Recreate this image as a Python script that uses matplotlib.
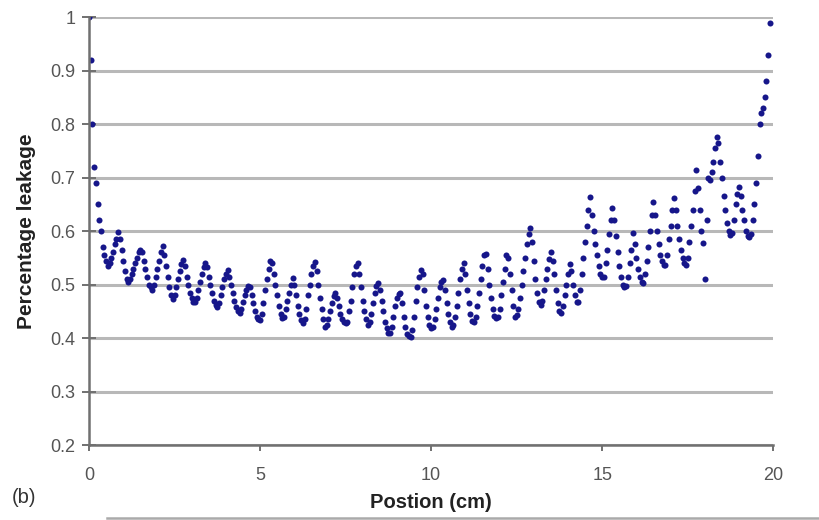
import numpy as np
from matplotlib import pyplot as plt
from matplotlib.lines import Line2D

plt.rcParams['font.family'] = ['Liberation Sans', 'DejaVu Sans']

step = 0.05  # cm between samples

# leakage, one value every 0.05 cm, split in chunks
leak_0_5 = [
    1.00, 0.92, 0.80, 0.72, 0.69, 0.65, 0.62, 0.60, 0.57, 0.555,
    0.545, 0.535, 0.54, 0.55, 0.56, 0.575, 0.585, 0.598, 0.585, 0.565,
    0.545, 0.525, 0.51, 0.505, 0.51, 0.52, 0.53, 0.54, 0.55, 0.56,
    0.565, 0.56, 0.545, 0.53, 0.515, 0.50, 0.495, 0.49, 0.50, 0.515,
    0.53, 0.545, 0.56, 0.572, 0.555, 0.535, 0.515, 0.495, 0.48, 0.473,
    0.48, 0.495, 0.51, 0.525, 0.538, 0.546, 0.535, 0.515, 0.50, 0.485,
    0.475, 0.468, 0.467, 0.475, 0.49, 0.505, 0.52, 0.532, 0.54, 0.533,
    0.515, 0.50, 0.485, 0.47, 0.462, 0.458, 0.465, 0.48, 0.495, 0.51,
    0.52, 0.527, 0.515, 0.50, 0.485, 0.47, 0.458, 0.45, 0.446, 0.455,
    0.468, 0.48, 0.49, 0.497, 0.495, 0.48, 0.465, 0.45, 0.44, 0.435,
]
leak_5_10 = [
    0.434, 0.445, 0.465, 0.49, 0.51, 0.53, 0.545, 0.54, 0.52, 0.50,
    0.48, 0.46, 0.445, 0.437, 0.44, 0.455, 0.47, 0.485, 0.50, 0.512,
    0.50, 0.48, 0.46, 0.445, 0.433, 0.428, 0.435, 0.455, 0.48, 0.50,
    0.52, 0.535, 0.542, 0.525, 0.50, 0.475, 0.455, 0.435, 0.42, 0.425,
    0.435, 0.45, 0.465, 0.478, 0.484, 0.475, 0.46, 0.445, 0.435, 0.43,
    0.428, 0.43, 0.45, 0.47, 0.495, 0.52, 0.535, 0.54, 0.52, 0.495,
    0.47, 0.45, 0.435, 0.424, 0.43, 0.445, 0.465, 0.485, 0.498, 0.503,
    0.49, 0.47, 0.45, 0.43, 0.418, 0.41, 0.409, 0.42, 0.44, 0.46,
    0.475, 0.482, 0.484, 0.465, 0.44, 0.42, 0.408, 0.403, 0.402, 0.415,
    0.44, 0.47, 0.495, 0.515, 0.527, 0.52, 0.49, 0.46, 0.44, 0.425,
]
leak_10_15 = [
    0.418, 0.42, 0.435, 0.455, 0.475, 0.495, 0.505, 0.508, 0.49, 0.465,
    0.445, 0.43, 0.42, 0.425, 0.44, 0.46, 0.485, 0.51, 0.53, 0.54,
    0.52, 0.49, 0.465, 0.445, 0.432, 0.43, 0.44, 0.46, 0.485, 0.51,
    0.535, 0.555, 0.558, 0.53, 0.50, 0.475, 0.455, 0.442, 0.437, 0.44,
    0.455, 0.48, 0.505, 0.53, 0.555, 0.55, 0.52, 0.49, 0.46, 0.44,
    0.443, 0.455, 0.475, 0.50, 0.525, 0.55, 0.575, 0.595, 0.605, 0.58,
    0.545, 0.51, 0.485, 0.468, 0.461, 0.47, 0.49, 0.51, 0.53, 0.548,
    0.56, 0.545, 0.52, 0.49, 0.465, 0.45, 0.447, 0.46, 0.48, 0.50,
    0.52, 0.538, 0.525, 0.50, 0.48, 0.468, 0.467, 0.49, 0.52, 0.55,
    0.58, 0.61, 0.64, 0.664, 0.63, 0.60, 0.575, 0.555, 0.535, 0.52,
]
leak_15_20 = [
    0.514, 0.515, 0.54, 0.565, 0.595, 0.62, 0.643, 0.62, 0.59, 0.56,
    0.535, 0.515, 0.50, 0.495, 0.497, 0.515, 0.54, 0.565, 0.596, 0.575,
    0.55, 0.53, 0.515, 0.505, 0.503, 0.52, 0.545, 0.57, 0.60, 0.63,
    0.654, 0.63, 0.60, 0.575, 0.555, 0.545, 0.537, 0.536, 0.555, 0.585,
    0.61, 0.64, 0.662, 0.64, 0.61, 0.585, 0.565, 0.55, 0.54, 0.536,
    0.55, 0.58, 0.61, 0.64, 0.675, 0.714, 0.68, 0.64, 0.60, 0.578,
    0.51, 0.62, 0.70, 0.695, 0.71, 0.73, 0.755, 0.776, 0.765, 0.73,
    0.70, 0.665, 0.64, 0.615, 0.60, 0.593, 0.596, 0.62, 0.65, 0.67,
    0.682, 0.665, 0.64, 0.62, 0.60, 0.59, 0.589, 0.595, 0.62, 0.65,
    0.69, 0.74, 0.80, 0.82, 0.83, 0.85, 0.88, 0.93, 0.99,
]

leak = np.array(leak_0_5 + leak_5_10 + leak_10_15 + leak_15_20)
pos = np.arange(len(leak)) * step

x_ticks = [0, 5, 10, 15, 20]
y_ticks = [0.2, 0.3, 0.4, 0.5, 0.6, 0.7, 0.8, 0.9, 1]
y_labels = ['0.2', '0.3', '0.4', '0.5', '0.6', '0.7', '0.8', '0.9', '1']

fig = plt.figure(figsize=(8.19, 5.2), dpi=100)
ax = fig.add_axes([0.1087, 0.1442, 0.8354, 0.8228])

ax.scatter(pos, leak, s=19, c='#16168a', marker='o', linewidths=0, zorder=3)

ax.set_xlim(0, 20)
ax.set_ylim(0.2, 1.0)
ax.set_xticks(x_ticks)
ax.set_yticks(y_ticks)
ax.set_yticklabels(y_labels)
ax.yaxis.grid(True, color='#b8b8b8', linewidth=2.2)
ax.set_axisbelow(True)

for s in ['top', 'right']:
    ax.spines[s].set_visible(False)
for s in ['left', 'bottom']:
    ax.spines[s].set_color('#707070')
    ax.spines[s].set_linewidth(1.8)
ax.spines['left'].set_zorder(4)

ax.tick_params(axis='y', direction='inout', length=10, width=1.4,
               colors='#707070', labelcolor='#555555', labelsize=13, pad=5)
ax.tick_params(axis='x', direction='out', length=4, width=1.4,
               colors='#707070', labelcolor='#555555', labelsize=13, pad=12)

ax.set_ylabel('Percentage leakage', fontsize=15, fontweight='bold',
              color='#222222', labelpad=10)
ax.set_xlabel('Postion (cm)', fontsize=14.5, fontweight='bold',
              color='#222222', labelpad=6)

fig.text(0.014, 0.033, '(b)', fontsize=14.5, color='#333333')
fig.add_artist(Line2D([0.131, 1.0], [0.004, 0.004], color='#aaaaaa',
                      linewidth=1.8, transform=fig.transFigure))

fig.savefig('out.png', dpi=100, facecolor='white')
